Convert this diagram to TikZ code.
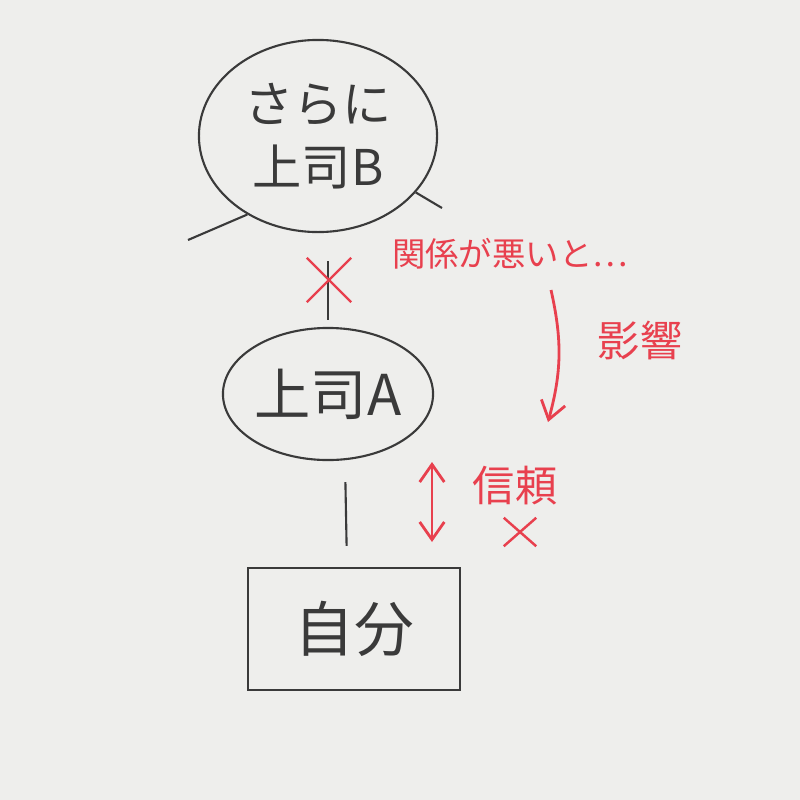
\documentclass[tikz,border=0pt]{standalone}
\usepackage{fontspec}
\setmainfont{Noto Sans CJK JP}
\usepackage{tikz}
\usetikzlibrary{arrows.meta,shapes.geometric,shapes.misc}

\definecolor{pen}{HTML}{3A3A3A}
\definecolor{redpen}{HTML}{E8404E}
\definecolor{paper}{HTML}{EEEEEC}

\begin{document}
\begin{tikzpicture}[x=0.01cm,y=-0.01cm,>={Straight Barb[length=5pt,width=7pt]},
	boss/.style={shape=ellipse,draw=pen,line width=0.6pt,text=pen,font=\fontsize{14}{18}\selectfont,align=center,inner sep=0pt},
	self/.style={shape=rectangle,draw=pen,line width=0.6pt,text=pen,font=\fontsize{17}{20}\selectfont,inner sep=0pt},
	tie/.style={draw=pen,line width=0.6pt},
	note/.style={text=redpen,font=\fontsize{9.5}{11}\selectfont},
	bigNote/.style={text=redpen,font=\fontsize{12}{14}\selectfont},
	ng/.style={shape=cross out,draw=redpen,line width=0.7pt}]
	\useasboundingbox[fill=paper] (0,0) rectangle (800,800);

	\node (bossB) [boss,minimum width=2.38cm,minimum height=1.92cm] at (318,136) {さらに\\上司B};
	\node (bossA) [boss,minimum width=2.1cm,minimum height=1.32cm,font=\fontsize{16}{18}\selectfont] at (328,394) {上司A};
	\node (me) [self,minimum width=2.12cm,minimum height=1.22cm] at (354,629) {自分};

	\coordinate (stubL) at (188,240);
	\coordinate (stubR) at (442,208);
	\path[tie] (bossB.228) edge (stubL);
	\path[tie] (bossB.-30) edge (stubR);
	\path[tie,shorten <=8pt,shorten >=2pt] (bossA.north |- bossB.south) edge (bossA.north);
	\path[tie,shorten <=6pt,shorten >=6pt] ([xshift=0.17cm]bossA.south) edge ([xshift=-0.07cm]me.north);

	\node (cut) [ng,minimum width=0.42cm,minimum height=0.42cm] at (329,280) {};
	\node (badRel) [note] at (510,254) {関係が悪いと…};

	\coordinate (fxTop) at (551,290);
	\coordinate (fxBot) at (548,422);
	\draw[->,redpen,line width=0.8pt] (fxTop) to[bend left=14] (fxBot);
	\node (effect) [bigNote] at (640,340) {影響};

	\coordinate (trTop) at (432,462);
	\coordinate (trBot) at (432,542);
	\draw[<->,redpen,line width=0.8pt] (trTop) -- (trBot);
	\node (trust) [bigNote] at (515,486) {信頼};
	\node (noTrust) [ng,minimum width=0.3cm,minimum height=0.26cm] at (520,532) {};
\end{tikzpicture}
\end{document}
